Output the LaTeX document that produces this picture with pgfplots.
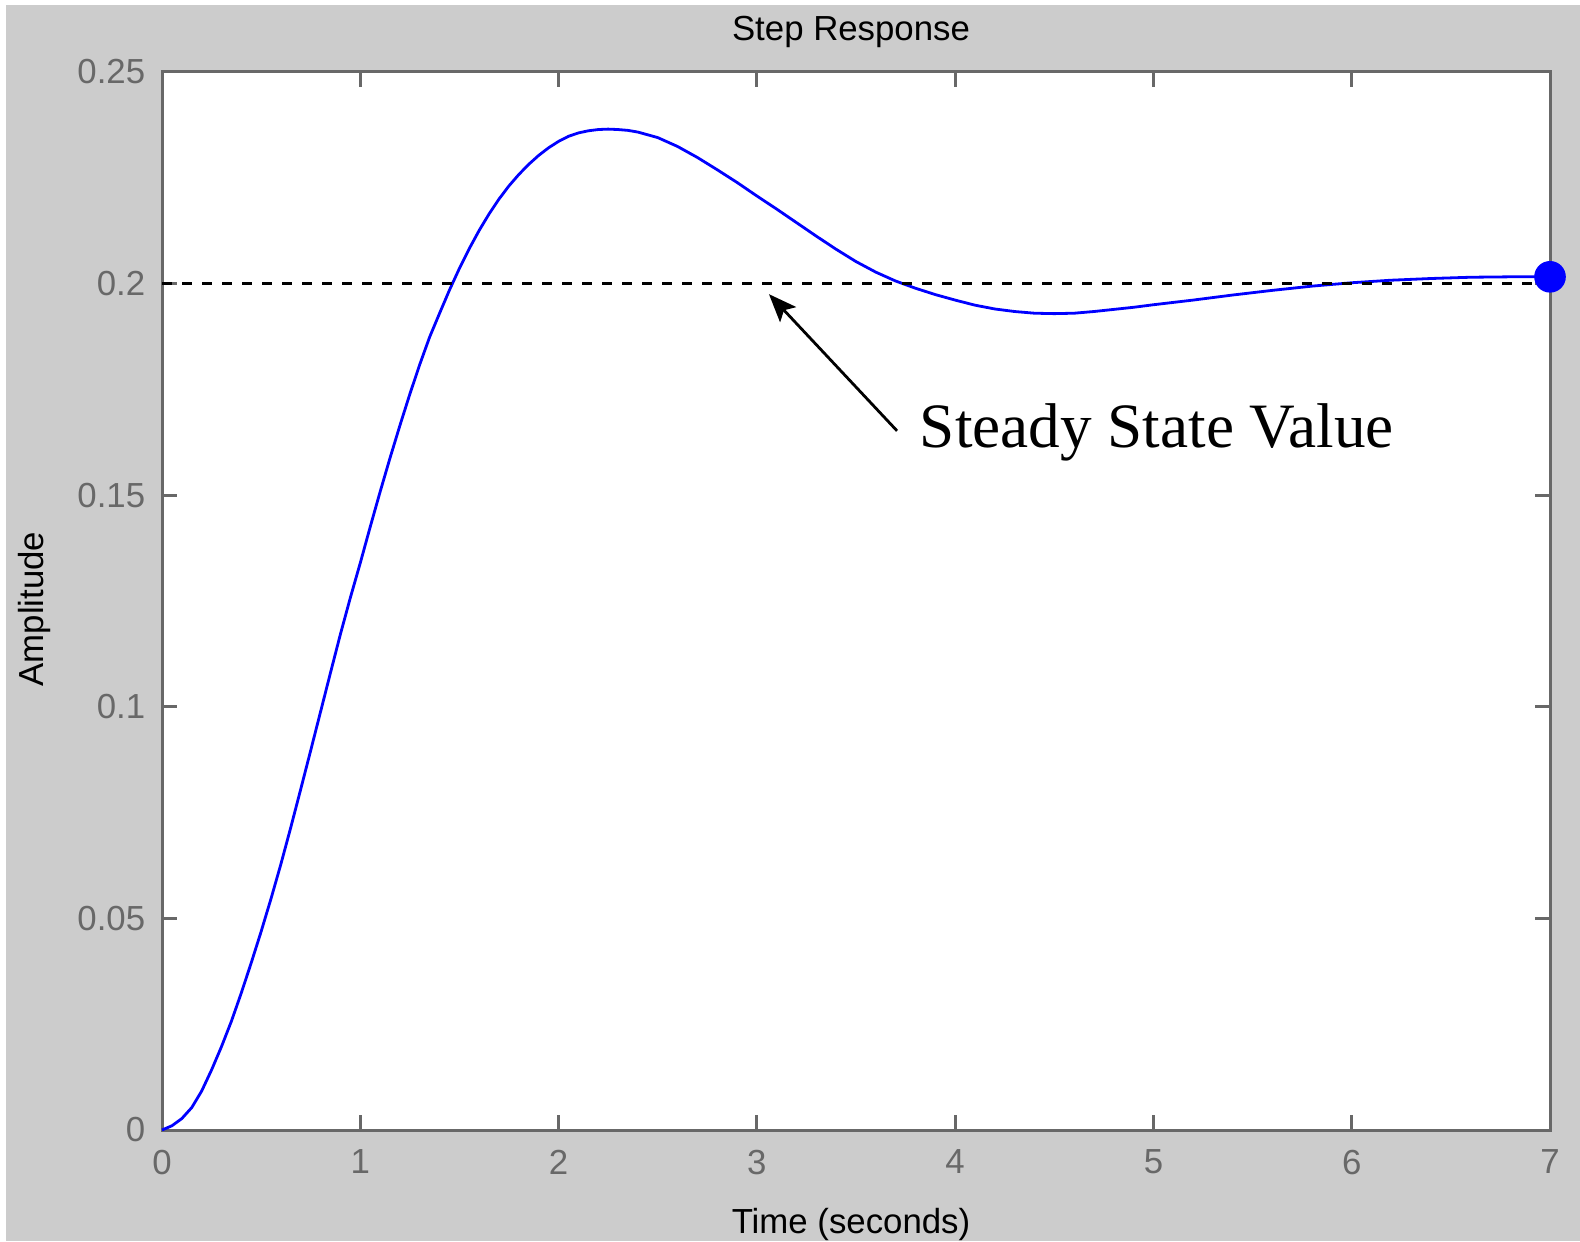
\documentclass[border=0pt]{standalone}
\usepackage{fontspec}
\setmainfont{Liberation Sans}
\newfontfamily\serifface{Liberation Serif}
\usepackage{pgfplots}
\usepackage{pgfplotstable}
\pgfplotsset{compat=1.18}
\usetikzlibrary{arrows.meta}

\definecolor{figgray}{RGB}{204,204,204}
\definecolor{axgray}{RGB}{104,104,104}
\definecolor{mblue}{RGB}{0,0,255}

% step response samples: time (s), amplitude
\pgfplotstableread{
t v
0.00 0.0000
0.05 0.0010
0.10 0.0027
0.15 0.0053
0.20 0.0092
0.25 0.0142
0.30 0.0197
0.35 0.0257
0.40 0.0324
0.45 0.0395
0.50 0.0469
0.55 0.0547
0.60 0.0629
0.65 0.0716
0.70 0.0806
0.75 0.0897
0.80 0.0989
0.85 0.1081
0.90 0.1172
0.95 0.1258
1.00 0.1340
1.05 0.1425
1.10 0.1508
1.15 0.1588
1.20 0.1665
1.25 0.1739
1.30 0.1809
1.35 0.1874
1.40 0.1930
1.45 0.1985
1.50 0.2036
1.55 0.2083
1.60 0.2126
1.65 0.2165
1.70 0.2200
1.75 0.2231
1.80 0.2258
1.85 0.2282
1.90 0.2303
1.95 0.2321
2.00 0.2336
2.05 0.2348
2.10 0.2356
2.15 0.2361
2.20 0.2364
2.25 0.2365
2.30 0.2364
2.35 0.2362
2.40 0.2358
2.50 0.2345
2.60 0.2324
2.70 0.2298
2.80 0.2269
2.90 0.2239
3.00 0.2207
3.10 0.2176
3.20 0.2144
3.30 0.2112
3.40 0.2081
3.50 0.2052
3.60 0.2027
3.70 0.2006
3.80 0.1989
3.90 0.1974
4.00 0.1961
4.10 0.1949
4.20 0.1940
4.30 0.1934
4.40 0.1930
4.50 0.1929
4.60 0.1930
4.70 0.1934
4.80 0.1939
4.90 0.1944
5.00 0.1950
5.20 0.1961
5.40 0.1973
5.60 0.1984
5.80 0.1994
6.00 0.2002
6.20 0.2008
6.40 0.2012
6.60 0.2015
6.80 0.2016
7.00 0.2016
}\steptable

\begin{document}
\begin{tikzpicture}
% figure background
\fill[white] (0,0) rectangle (395pt,310.25pt);
\fill[figgray] (1.5pt,0) rectangle (395pt,309pt);

\begin{axis}[
  at={(40.5pt,27.75pt)}, anchor=south west,
  scale only axis, width=347pt, height=264.5pt,
  xmin=0, xmax=7, ymin=0, ymax=0.25,
  clip=false,
  axis background/.style={fill=white},
  axis line style={axgray, line width=0.75pt},
  tick align=inside, major tick length=3.75pt,
  tick style={axgray, line width=0.75pt},
  xtick={0,1,2,3,4,5,6,7},
  ytick={0,0.05,0.1,0.15,0.2,0.25},
  yticklabels={0,0.05,0.1,0.15,0.2,0.25},
  /pgf/number format/assume math mode=true,
  tick label style={font=\fontsize{8.7}{10}\selectfont, text=axgray, inner sep=0pt},
  xticklabel style={anchor=north, yshift=-4.75pt},
  yticklabel style={anchor=east, xshift=-4pt},
  every axis title shift=0pt,
  title={Step Response},
  title style={at={(axis description cs:0.4964,1.0293)}, anchor=base, inner sep=0pt,
    font=\fontsize{8.7}{10}\selectfont},
  xlabel={Time (seconds)},
  xlabel style={at={(axis description cs:0.4964,-0.0974)}, anchor=base, inner sep=0pt,
    font=\fontsize{8.7}{10}\selectfont},
  ylabel={Amplitude},
  ylabel style={at={(axis description cs:-0.0857,0.4924)}, anchor=base, inner sep=0pt,
    rotate=0, font=\fontsize{8.7}{10}\selectfont},
]
\addplot[mblue, line width=0.7pt, mark=none] table[x=t, y=v] {\steptable};
\addplot[black, line width=0.85pt, dash pattern=on 2.5pt off 2.5pt, mark=none]
  coordinates {(0,0.2) (7,0.2)};
\addplot[only marks, mark=*, mark size=3.75pt, mblue] coordinates {(7,0.2016)};

\draw[-{Stealth[length=7pt,width=5.5pt,inset=1.5pt]}, line width=0.7pt]
  (axis cs:3.707,0.1652) -- (axis cs:3.061,0.1975);
\node[anchor=base west, inner sep=0pt, font=\serifface\fontsize{15.8}{18}\selectfont]
  at (axis cs:3.818,0.1612) {Steady State Value};
\end{axis}

\pgfresetboundingbox
\useasboundingbox (0,0) rectangle (395pt,310.25pt);
\end{tikzpicture}
\end{document}
